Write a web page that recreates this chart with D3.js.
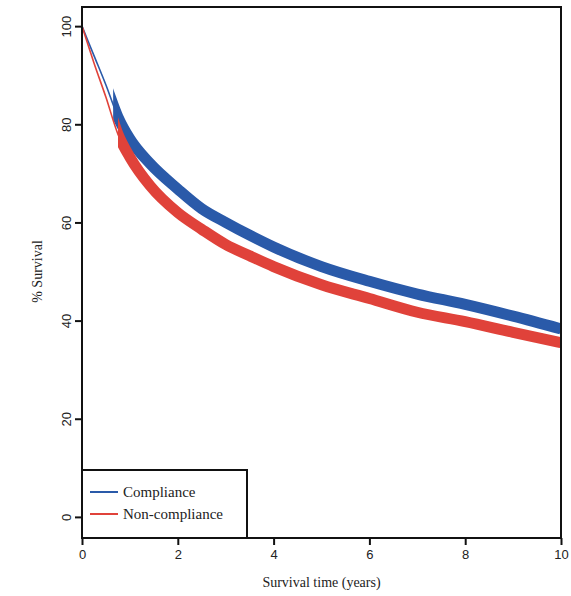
<!DOCTYPE html>
<html>
<head>
<meta charset="utf-8">
<script src="https://cdn.jsdelivr.net/npm/d3@7"></script>
<style>
  html, body { margin: 0; padding: 0; background: #fff; }
  svg { display: block; font-family: "Liberation Serif", "DejaVu Serif", serif; }
</style>
</head>
<body>
<svg id="chart"></svg>
<script>
// survival time (years) and % survival
var years = [0, 0.25, 0.5, 0.75, 1, 1.42, 2, 2.5, 3, 3.5, 4, 5, 6, 7, 8, 9, 10]
var compliance = [100, 94, 88, 81.5, 77, 72, 66.8, 62.8, 60, 57.4, 55, 51, 48, 45.4, 43.3, 40.9, 38.3]
var nonCompliance = [100, 92.5, 85.5, 78, 73.3, 67.5, 62, 58.6, 55.5, 53.2, 51, 47.3, 44.5, 41.7, 39.8, 37.6, 35.5]
var xTicks = [0, 2, 4, 6, 8, 10]
var yTicks = [0, 20, 40, 60, 80, 100]
var seriesNames = ["Compliance", "Non-compliance"]
var seriesColors = ["#2a5aa9", "#e0423a"]
var censorStart = [0.65, 0.75]   // where the censoring marks make each curve thick

var width = 571, height = 596
var margin = ({top: 7, right: 10, bottom: 58, left: 82})

var svg = d3.select("#chart").attr("width", width).attr("height", height)

var x = d3.scaleLinear()
	.domain([0, 10])
	.range([margin.left, width - margin.right])

var y = d3.scaleLinear()
	.domain([-4.3, 103.9])
	.range([height - margin.bottom, margin.top])

var series = [compliance, nonCompliance].map((vals, i) => ({
	name: seriesNames[i],
	color: seriesColors[i],
	start: censorStart[i],
	values: years.map((t, j) => ({t: t, v: vals[j]}))
}))

var line = d3.line()
	.x(d => x(d.t))
	.y(d => y(d.v))
	.curve(d3.curveMonotoneX)

// curves: thin line plus a thick band where the censor marks pile up
series.forEach(s => {
	var path = svg.append("path")
		.attr("fill", "none")
		.attr("stroke", s.color)
		.attr("stroke-width", 1.6)
		.attr("d", line(s.values))
	// clip the thick copy so it begins at the censoring start
	var id = "clip" + s.name.replace(/\W/g, "")
	svg.append("clipPath").attr("id", id)
		.append("rect")
		.attr("x", x(s.start)).attr("y", 0)
		.attr("width", x(10) - x(s.start)).attr("height", height)
	svg.append("path")
		.attr("fill", "none")
		.attr("stroke", s.color)
		.attr("stroke-width", 11)
		.attr("stroke-linecap", "butt")
		.attr("clip-path", `url(#${id})`)
		.attr("d", line(s.values))
})

// frame
svg.append("rect")
	.attr("x", x(0))
	.attr("y", y.range()[1])
	.attr("width", x(10) - x(0))
	.attr("height", y.range()[0] - y.range()[1])
	.attr("fill", "none")
	.attr("stroke", "#111")
	.attr("stroke-width", 2)

var xAxis = g => g
	.attr("transform", `translate(0,${y.range()[0]})`)
	.call(d3.axisBottom(x).tickValues(xTicks).tickSize(7).tickPadding(5).tickFormat(d3.format("d")))
	.call(g => g.select(".domain").remove())

var yAxis = g => g
	.attr("transform", `translate(${margin.left},0)`)
	.call(d3.axisLeft(y).tickValues(yTicks).tickSize(7).tickFormat(d3.format("d")))
	.call(g => g.select(".domain").remove())

var gx = svg.append("g").call(xAxis)
gx.selectAll("line").attr("stroke", "#111").attr("stroke-width", 2)
gx.selectAll("text").attr("font-size", 13).attr("fill", "#222").attr("font-family", null)

var gy = svg.append("g").call(yAxis)
gy.selectAll("line").attr("stroke", "#111").attr("stroke-width", 2)
gy.selectAll("text")
	.attr("font-size", 13)
	.attr("fill", "#222")
	.attr("font-family", null)
	.attr("x", null).attr("dy", null)
	.attr("text-anchor", "middle")
	.attr("transform", "translate(-16,0) rotate(-90)")
	.attr("dy", "0.35em")

svg.append("text")
	.attr("x", (x(0) + x(10)) / 2)
	.attr("y", 587)
	.attr("text-anchor", "middle")
	.attr("font-size", 14)
	.attr("fill", "#222")
	.text("Survival time (years)")

svg.append("text")
	.attr("transform", `translate(42,${y(50)}) rotate(-90)`)
	.attr("text-anchor", "middle")
	.attr("font-size", 14)
	.attr("fill", "#222")
	.text("% Survival")

// legend
var legend = svg.append("g")
legend.append("rect")
	.attr("x", x(0))
	.attr("y", 470)
	.attr("width", 165)
	.attr("height", y.range()[0] - 470)
	.attr("fill", "#fff")
	.attr("stroke", "#111")
	.attr("stroke-width", 2)

series.forEach((s, i) => {
	var ly = 492 + i * 22
	legend.append("line")
		.attr("x1", x(0) + 8).attr("x2", x(0) + 36)
		.attr("y1", ly).attr("y2", ly)
		.attr("stroke", s.color)
		.attr("stroke-width", 2)
	legend.append("text")
		.attr("x", x(0) + 41)
		.attr("y", ly)
		.attr("dy", "0.35em")
		.attr("font-size", 15)
		.attr("fill", "#222")
		.text(s.name)
})
</script>
</body>
</html>
